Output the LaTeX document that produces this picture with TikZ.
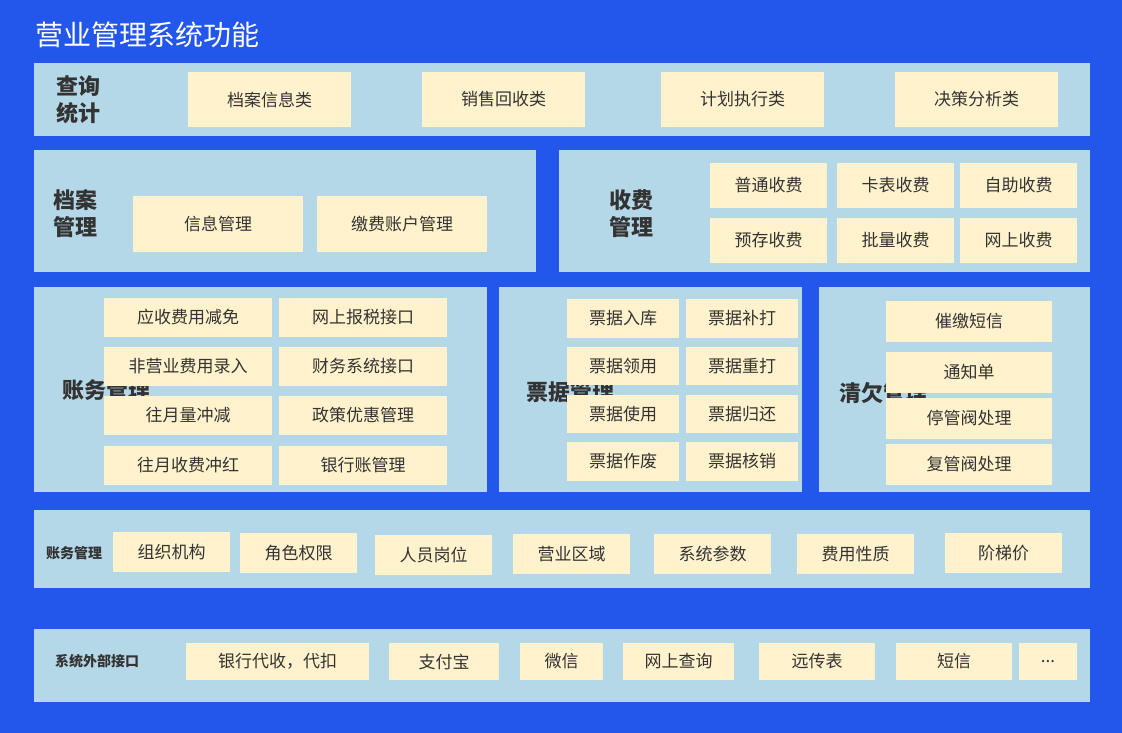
\documentclass[tikz,border=0pt]{standalone}
\usepackage{fontspec}
\setmainfont{Noto Sans CJK SC}
\definecolor{bg}{HTML}{2356EA}
\definecolor{pn}{HTML}{B5D8E8}
\definecolor{cr}{HTML}{FFF2CC}
\definecolor{tx}{HTML}{333333}
\newcommand\bx[6]{\node[bx,minimum width={(#4-#2)*1pt},minimum height={(#5-#3)*1pt}] (#1) at ({(#2+#4)/2},{(#3+#5)/2}) {#6};}
\newcommand\pn[5]{\node[pnl,minimum width={(#4-#2)*1pt},minimum height={(#5-#3)*1pt}] (#1) at ({(#2+#4)/2},{(#3+#5)/2}) {};}
\begin{document}
\begin{tikzpicture}[x=1pt,y=-1pt,
  bx/.style={fill=cr,inner sep=0pt,text=tx,font=\fontsize{17}{20}\selectfont},
  pnl/.style={fill=pn,inner sep=0pt},
  lb/.style={text=tx,font=\bfseries\fontsize{22}{27}\selectfont,align=center},
  lbs/.style={text=tx,font=\bfseries\fontsize{14}{17}\selectfont}]
\fill[bg] (0,0) rectangle (1122,733);
\useasboundingbox (0,0) rectangle (1122,733);
\node[anchor=west,text=white,font=\fontsize{28}{32}\selectfont] (title) at (32,35) {营业管理系统功能};
% row1
\pn{p1}{34}{63}{1090}{136}
\node[lb] (l1) at (78,100) {查询\\统计};
\bx{a1}{188}{72}{351}{127}{档案信息类}
\bx{a2}{422}{72}{585}{127}{销售回收类}
\bx{a3}{661}{72}{824}{127}{计划执行类}
\bx{a4}{895}{72}{1058}{127}{决策分析类}
% row2
\pn{p2}{34}{150}{536}{272}
\node[lb] (l2) at (75,214) {档案\\管理};
\bx{b1}{133}{196}{303}{252}{信息管理}
\bx{b2}{317}{196}{487}{252}{缴费账户管理}
\pn{p3}{559}{150}{1090}{272}
\node[lb] (l3) at (631,214) {收费\\管理};
\bx{c1}{710}{163}{827}{208}{普通收费}
\bx{c2}{837}{163}{954}{208}{卡表收费}
\bx{c3}{960}{163}{1077}{208}{自助收费}
\bx{c4}{710}{218}{827}{263}{预存收费}
\bx{c5}{837}{218}{954}{263}{批量收费}
\bx{c6}{960}{218}{1077}{263}{网上收费}
% row3
\pn{p4}{34}{287}{487}{492}
\node[lb,text width=1em] (l4) at (67,390) {账务管理};
\bx{d1}{104}{298}{272}{337}{应收费用减免}
\bx{d2}{279}{298}{447}{337}{网上报税接口}
\bx{d3}{104}{347}{272}{386}{非营业费用录入}
\bx{d4}{279}{347}{447}{386}{财务系统接口}
\bx{d5}{104}{396}{272}{435}{往月量冲减}
\bx{d6}{279}{396}{447}{435}{政策优惠管理}
\bx{d7}{104}{446}{272}{485}{往月收费冲红}
\bx{d8}{279}{446}{447}{485}{银行账管理}
\pn{p5}{499}{287}{802}{492}
\node[lb,text width=1em] (l5) at (531,392) {票据管理};
\bx{e1}{567}{299}{679}{338}{票据入库}
\bx{e2}{686}{299}{798}{338}{票据补打}
\bx{e3}{567}{347}{679}{385}{票据领用}
\bx{e4}{686}{347}{798}{385}{票据重打}
\bx{e5}{567}{395}{679}{433}{票据使用}
\bx{e6}{686}{395}{798}{433}{票据归还}
\bx{e7}{567}{442}{679}{481}{票据作废}
\bx{e8}{686}{442}{798}{481}{票据核销}
\pn{p6}{819}{287}{1090}{492}
\node[lb,text width=1em] (l6) at (844,393) {清欠管理};
\bx{f1}{886}{301}{1052}{342}{催缴短信}
\bx{f2}{886}{352}{1052}{393}{通知单}
\bx{f3}{886}{398}{1052}{439}{停管阀处理}
\bx{f4}{886}{444}{1052}{485}{复管阀处理}
% row4
\pn{p7}{34}{510}{1090}{588}
\node[lbs] (l7) at (74,553) {账务管理};
\bx{g1}{113}{532}{230}{572}{组织机构}
\bx{g2}{240}{533}{357}{573}{角色权限}
\bx{g3}{375}{535}{492}{575}{人员岗位}
\bx{g4}{513}{534}{630}{574}{营业区域}
\bx{g5}{654}{534}{771}{574}{系统参数}
\bx{g6}{797}{534}{914}{574}{费用性质}
\bx{g7}{945}{533}{1062}{573}{阶梯价}
% row5
\pn{p8}{34}{629}{1090}{702}
\node[lbs] (l8) at (97,661) {系统外部接口};
\bx{h1}{186}{643}{369}{680}{银行代收，代扣}
\bx{h2}{389}{643}{499}{680}{支付宝}
\bx{h3}{520}{643}{603}{680}{微信}
\bx{h4}{623}{643}{734}{680}{网上查询}
\bx{h5}{759}{643}{875}{680}{远传表}
\bx{h6}{896}{643}{1012}{680}{短信}
\bx{h7}{1019}{643}{1077}{680}{...}
\end{tikzpicture}
\end{document}
